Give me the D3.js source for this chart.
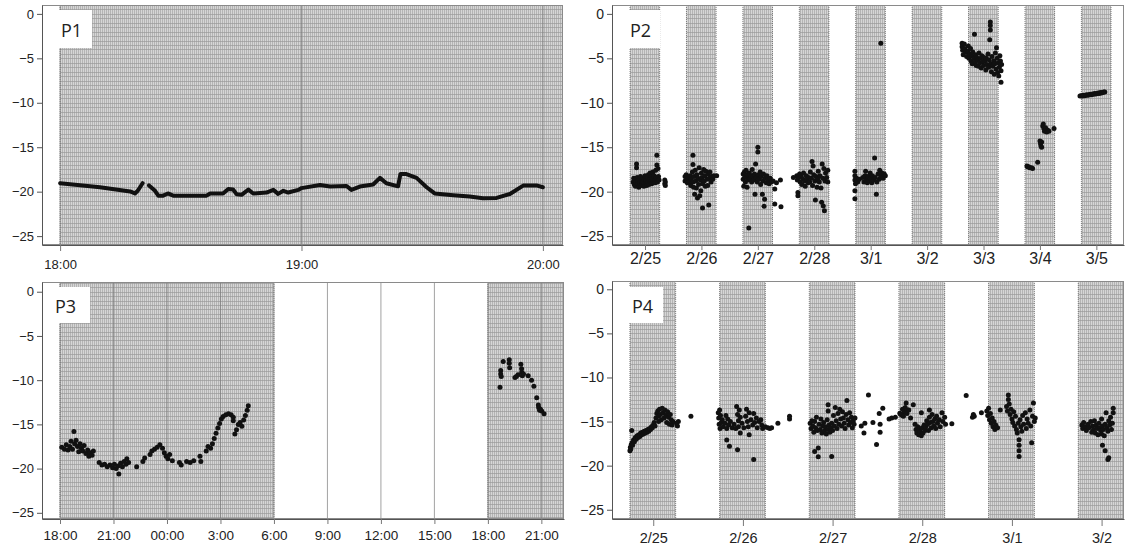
<!DOCTYPE html>
<html>
<head>
<meta charset="utf-8">
<script src="https://cdn.jsdelivr.net/npm/d3@7"></script>
<style>
  body { margin: 0; background: #fff; }
  svg text { font-family: Arial, "Liberation Sans", sans-serif; }
</style>
</head>
<body>
<div id="chart"></div>
<script>
// ---- data ----
// P1: minutes after 18:00 and value (null value = gap in the record)
var p1Minutes = [0, 9.9, 17.4, 18.6, 19.3, 20.5, 21.3, 22.1, 23.6, 24.4, 25.6, 26.8, 28.1, 36.4, 37.3, 40.5, 41.8, 43.0, 43.9, 45.1, 46.8, 48.0, 51.3, 53.0, 54.2, 55.5, 56.7, 59.2, 60.0, 64.6, 67.1, 71.2, 72.4, 74.5, 77.8, 79.5, 81.1, 84.0, 84.6, 85.9, 88.6, 91.1, 93.1, 97.7, 101.8, 105.1, 108.5, 111.8, 115.1, 118.4, 120.0];
var p1Values = [-19.05, -19.5, -19.97, -20.2, -19.9, -19.05, null, -19.3, -19.9, -20.45, -20.45, -20.2, -20.45, -20.45, -20.2, -20.2, -19.7, -19.75, -20.3, -20.35, -19.77, -20.2, -20.1, -19.8, -20.25, -19.9, -20.1, -19.8, -19.6, -19.25, -19.43, -19.36, -19.8, -19.43, -19.2, -18.45, -19.05, -19.4, -18.0, -18.0, -18.45, -19.5, -20.2, -20.4, -20.55, -20.75, -20.7, -20.26, -19.32, -19.3, -19.5];
var p1Ticks = [0, 60, 120];
var p1TickLabels = ["18:00", "19:00", "20:00"];

// P2: [day index from 2/25, value]
var p2DayLabels = ["2/25", "2/26", "2/27", "2/28", "3/1", "3/2", "3/3", "3/4", "3/5"];
var p2Points = [
  [-0.21,-18.9],[-0.2,-18.5],[-0.19,-19.2],[-0.18,-18.7],[-0.17,-19.4],[-0.16,-18.9],[-0.15,-16.9],[-0.15,-17.3],[-0.14,-18.4],[-0.13,-19.1],[-0.12,-18.8],[-0.11,-19.5],[-0.1,-18.6],[-0.09,-19.0],[-0.08,-18.3],[-0.07,-19.3],[-0.06,-18.8],[-0.05,-19.1],[-0.04,-18.5],[-0.03,-18.9],[-0.02,-19.4],[-0.01,-18.6],[0,-18.2],[0.01,-19.0],[0.02,-18.7],[0.03,-19.3],[0.04,-18.4],[0.05,-18.9],[0.06,-18.1],[0.07,-19.2],[0.08,-18.6],[0.09,-17.9],[0.1,-18.8],[0.11,-18.3],[0.12,-19.1],[0.13,-18.5],[0.14,-17.8],[0.15,-18.9],[0.16,-18.2],[0.17,-18.7],[0.18,-19.0],[0.19,-17.6],[0.2,-18.4],[0.21,-15.9],[0.21,-17.0],[0.22,-18.9],[0.23,-17.4],[0.24,-18.3],[0.25,-18.7],[0.35,-18.7],[0.35,-19.1],[0.36,-18.9],[0.36,-19.3],
  [0.71,-18.3],[0.71,-18.8],[0.73,-18.1],[0.74,-18.6],[0.75,-19.0],[0.77,-18.4],[0.78,-18.9],[0.8,-18.2],[0.81,-19.3],[0.82,-18.6],[0.84,-17.8],[0.85,-15.9],[0.85,-16.95],[0.85,-18.9],[0.86,-19.5],[0.87,-18.3],[0.88,-20.3],[0.89,-17.6],[0.9,-18.8],[0.91,-19.6],[0.92,-18.1],[0.93,-20.7],[0.94,-18.5],[0.95,-19.2],[0.96,-17.3],[0.97,-20.45],[0.98,-18.7],[0.99,-19.9],[1.0,-17.9],[1.01,-18.4],[1.02,-21.85],[1.02,-19.1],[1.04,-17.5],[1.05,-18.8],[1.06,-18.2],[1.07,-19.4],[1.08,-17.7],[1.1,-18.6],[1.11,-19.3],[1.12,-18.0],[1.13,-21.5],[1.14,-18.5],[1.15,-17.8],[1.17,-18.9],[1.18,-18.3],[1.2,-18.6],[1.22,-18.2],[1.27,-18.2],
  [1.74,-18.0],[1.74,-18.6],[1.75,-19.4],[1.76,-17.8],[1.77,-18.3],[1.78,-18.9],[1.79,-17.6],[1.8,-18.4],[1.81,-19.5],[1.82,-18.1],[1.83,-18.7],[1.84,-24.1],[1.85,-17.9],[1.86,-18.5],[1.88,-18.2],[1.89,-18.9],[1.9,-17.5],[1.91,-18.3],[1.93,-18.7],[1.94,-18.0],[1.95,-20.3],[1.96,-16.9],[1.97,-18.4],[1.99,-18.9],[2.0,-15.0],[2.0,-15.55],[2.01,-18.1],[2.02,-18.6],[2.04,-17.8],[2.05,-19.2],[2.06,-18.3],[2.08,-20.3],[2.09,-18.8],[2.1,-18.0],[2.11,-21.65],[2.12,-20.85],[2.13,-18.5],[2.15,-19.0],[2.16,-18.2],[2.18,-18.7],[2.2,-19.1],[2.22,-18.5],[2.24,-18.9],[2.27,-18.8],[2.3,-19.7],[2.3,-21.4],[2.33,-19.0],[2.4,-18.7],[2.41,-21.7],
  [2.63,-18.4],[2.69,-18.2],[2.7,-18.7],[2.71,-20.1],[2.71,-20.45],[2.72,-18.4],[2.74,-18.0],[2.75,-18.9],[2.77,-18.3],[2.78,-19.2],[2.8,-18.6],[2.81,-17.9],[2.83,-18.8],[2.84,-19.4],[2.86,-18.2],[2.87,-18.7],[2.89,-19.0],[2.9,-18.4],[2.92,-18.9],[2.93,-17.8],[2.95,-18.5],[2.96,-16.6],[2.97,-19.3],[2.98,-17.1],[2.99,-18.1],[3.01,-18.8],[3.02,-20.95],[3.03,-18.3],[3.05,-19.5],[3.06,-18.6],[3.07,-17.7],[3.09,-18.9],[3.1,-18.2],[3.12,-19.6],[3.13,-21.2],[3.14,-16.9],[3.15,-18.5],[3.16,-21.6],[3.17,-17.4],[3.18,-22.15],[3.19,-18.8],[3.2,-17.9],[3.22,-18.4],[3.24,-17.6],[3.24,-18.9],
  [3.72,-17.7],[3.72,-18.2],[3.72,-18.7],[3.73,-19.1],[3.72,-19.9],[3.72,-20.8],[3.75,-18.5],[3.77,-18.9],[3.8,-18.6],[3.86,-18.4],[3.88,-18.9],[3.9,-18.2],[3.91,-17.7],[3.92,-18.7],[3.94,-19.0],[3.95,-18.3],[3.97,-18.8],[3.99,-17.9],[4.0,-18.5],[4.02,-19.0],[4.03,-18.2],[4.05,-18.7],[4.07,-16.2],[4.08,-18.4],[4.1,-20.3],[4.11,-18.9],[4.13,-18.0],[4.15,-18.6],[4.16,-17.6],[4.18,-3.3],[4.18,-18.3],[4.2,-17.9],[4.22,-18.5],[4.24,-18.0],[4.26,-18.2],
  [5.62,-3.3],[5.62,-3.7],[5.63,-4.1],[5.64,-4.6],[5.66,-3.4],[5.67,-3.9],[5.68,-4.3],[5.7,-4.8],[5.72,-4.2],[5.73,-3.6],[5.74,-5.0],[5.75,-4.5],[5.77,-3.9],[5.78,-5.3],[5.79,-4.7],[5.8,-5.6],[5.81,-4.3],[5.83,-5.0],[5.84,-2.3],[5.85,-5.4],[5.86,-4.6],[5.87,-5.8],[5.88,-4.9],[5.9,-5.2],[5.91,-5.9],[5.92,-4.4],[5.93,-5.5],[5.95,-5.0],[5.96,-6.1],[5.97,-4.7],[5.98,-5.4],[6.0,-5.8],[6.01,-4.9],[6.02,-5.3],[6.04,-6.3],[6.05,-5.0],[6.06,-5.7],[6.08,-4.5],[6.09,-6.0],[6.1,-5.2],[6.11,-2.9],[6.12,-0.9],[6.12,-1.3],[6.12,-1.8],[6.13,-5.6],[6.14,-6.5],[6.15,-4.8],[6.16,-5.9],[6.18,-5.3],[6.19,-6.8],[6.2,-5.6],[6.21,-4.4],[6.22,-6.2],[6.23,-3.8],[6.24,-5.0],[6.25,-6.6],[6.26,-5.5],[6.27,-7.0],[6.28,-6.0],[6.29,-4.7],[6.3,-5.3],[6.31,-6.4],[6.31,-7.7],[6.32,-5.7],
  [6.77,-17.1],[6.78,-17.2],[6.8,-17.2],[6.82,-17.3],[6.85,-17.3],[6.87,-17.4],[6.96,-16.7],[7.0,-14.3],[7.01,-14.6],[7.02,-14.9],[7.03,-15.0],[7.03,-14.4],[7.05,-12.6],[7.06,-12.4],[7.07,-12.9],[7.08,-13.2],[7.1,-12.8],[7.12,-13.3],[7.14,-13.1],[7.16,-13.2],[7.25,-12.9],
  [7.71,-9.25],[7.73,-9.2],[7.75,-9.25],[7.77,-9.15],[7.79,-9.2],[7.81,-9.15],[7.83,-9.1],[7.85,-9.15],[7.87,-9.1],[7.89,-9.05],[7.91,-9.1],[7.93,-9.0],[7.95,-9.05],[7.97,-8.95],[7.99,-9.0],[8.01,-8.95],[8.03,-8.9],[8.05,-8.95],[8.07,-8.85],[8.09,-8.9],[8.11,-8.85],[8.13,-8.8],[8.15,-8.8]
];

// P3: [hours after first 18:00, value]
var p3TickLabels = ["18:00", "21:00", "00:00", "3:00", "6:00", "9:00", "12:00", "15:00", "18:00", "21:00"];
var p3Points = [
  [0.1,-17.6],[0.25,-17.8],[0.35,-17.3],[0.45,-17.9],[0.55,-17.5],[0.62,-16.9],[0.7,-17.8],[0.78,-15.8],[0.82,-17.2],[0.9,-16.8],[0.98,-17.5],[1.05,-18.1],[1.12,-17.2],[1.2,-17.7],[1.28,-18.0],[1.35,-17.4],[1.45,-18.3],[1.55,-17.9],[1.62,-18.6],[1.7,-18.2],[1.8,-18.5],[1.87,-18.0],
  [2.2,-19.3],[2.35,-19.6],[2.5,-19.5],[2.65,-19.8],[2.8,-19.6],[2.95,-19.9],[3.05,-19.5],[3.15,-20.0],[3.25,-19.7],[3.3,-20.6],[3.4,-19.4],[3.5,-19.8],[3.6,-19.2],[3.7,-19.5],[3.75,-18.9],[3.85,-19.3],[4.3,-19.8],[4.65,-19.2],[4.75,-18.8],
  [5.05,-18.4],[5.15,-18.0],[5.3,-17.8],[5.45,-17.6],[5.6,-17.3],[5.75,-17.7],[5.85,-18.2],[5.95,-18.6],[6.05,-18.9],[6.15,-18.4],[6.3,-19.1],[6.7,-19.3],[6.8,-19.6],[7.1,-19.2],[7.3,-19.3],[7.5,-19.1],[7.85,-18.6],[7.9,-19.2],
  [8.2,-18.0],[8.3,-17.5],[8.45,-17.7],[8.55,-17.2],[8.65,-16.6],[8.75,-16.0],[8.85,-15.4],[8.95,-14.9],[9.05,-14.4],[9.15,-14.1],[9.3,-13.9],[9.45,-13.8],[9.6,-13.9],[9.72,-14.2],[9.72,-14.6],[9.81,-16.1],[9.9,-15.6],[10.0,-15.0],[10.1,-14.8],[10.2,-15.2],[10.3,-14.5],[10.4,-14.0],[10.5,-13.4],[10.56,-12.9],
  [24.68,-10.8],[24.72,-8.9],[24.72,-9.3],[24.75,-9.6],[24.86,-7.9],[25.2,-7.7],[25.2,-8.1],[25.22,-8.6],[25.52,-9.7],[25.6,-9.6],[25.69,-9.4],[25.85,-8.2],[25.89,-8.7],[25.9,-9.1],[25.93,-9.5],[26.0,-9.3],[26.26,-9.5],[26.45,-10.0],[26.58,-10.7],[26.74,-12.0],[26.83,-12.8],[26.85,-13.1],[26.9,-13.4],[26.95,-13.3],[27.02,-13.5],[27.15,-13.8]
];
var p3Nights = [[0, 12], [24, 36]];

// P4: [day index from 2/25, value]
var p4DayLabels = ["2/25", "2/26", "2/27", "2/28", "3/1", "3/2"];
var p4Points = [
  [-0.26,-18.3],[-0.255,-17.9],[-0.25,-18.1],[-0.245,-17.6],[-0.24,-16.0],[-0.235,-17.4],[-0.23,-17.7],[-0.22,-17.1],[-0.21,-17.3],[-0.2,-16.8],[-0.19,-17.0],[-0.18,-16.6],[-0.17,-16.8],[-0.16,-16.5],[-0.15,-16.7],[-0.14,-16.3],[-0.13,-16.5],[-0.12,-16.2],[-0.11,-16.4],[-0.1,-16.1],[-0.09,-16.3],[-0.08,-16.0],[-0.07,-16.2],[-0.06,-15.9],[-0.05,-16.1],[-0.04,-15.8],[-0.03,-15.9],[-0.02,-15.6],[-0.01,-15.7],[0.0,-15.4],[0.01,-15.1],[0.02,-15.5],[0.03,-14.6],[0.04,-14.1],[0.05,-13.8],[0.06,-14.4],[0.06,-15.0],[0.07,-13.6],[0.08,-14.2],[0.09,-14.8],[0.1,-13.5],[0.11,-14.0],[0.12,-14.6],[0.13,-13.7],[0.14,-14.3],[0.15,-15.1],[0.16,-13.9],[0.17,-14.5],[0.18,-15.3],[0.19,-14.2],[0.2,-14.8],[0.21,-15.4],[0.22,-15.0],[0.26,-15.2],[0.27,-15.5],[0.28,-15.0],[0.42,-14.4],
  [0.725,-14.0],[0.73,-14.6],[0.735,-15.3],[0.74,-13.7],[0.745,-15.8],[0.75,-14.3],[0.76,-15.1],[0.77,-14.8],[0.78,-15.6],[0.8,-15.2],[0.81,-14.3],[0.82,-17.1],[0.82,-15.8],[0.83,-14.7],[0.84,-15.4],[0.85,-17.8],[0.86,-15.0],[0.88,-15.7],[0.9,-15.3],[0.92,-15.8],[0.93,-13.3],[0.94,-14.2],[0.94,-18.2],[0.95,-14.9],[0.95,-15.6],[0.96,-13.7],[0.97,-16.3],[0.97,-14.5],[0.99,-15.2],[1.01,-15.7],[1.03,-14.4],[1.04,-13.6],[1.05,-15.0],[1.06,-15.6],[1.07,-14.0],[1.07,-16.5],[1.09,-14.8],[1.11,-15.4],[1.12,-14.1],[1.12,-19.3],[1.13,-15.1],[1.15,-14.6],[1.16,-15.7],[1.18,-15.0],[1.2,-14.8],[1.21,-15.4],[1.22,-15.8],[1.25,-15.6],[1.28,-15.7],[1.3,-15.8],[1.32,-15.7],[1.39,-15.2],[1.52,-14.4],[1.52,-14.7],
  [1.75,-15.2],[1.76,-15.8],[1.77,-14.9],[1.78,-15.5],[1.79,-16.2],[1.8,-18.4],[1.8,-15.0],[1.81,-15.7],[1.82,-14.5],[1.83,-16.0],[1.84,-18.0],[1.84,-19.0],[1.85,-15.3],[1.86,-15.9],[1.87,-14.7],[1.88,-16.3],[1.89,-15.5],[1.9,-15.1],[1.91,-16.0],[1.92,-15.6],[1.93,-16.4],[1.94,-14.8],[1.95,-13.1],[1.95,-13.8],[1.95,-15.9],[1.96,-15.4],[1.97,-16.2],[1.98,-15.7],[1.99,-18.95],[1.99,-15.2],[2.0,-16.0],[2.01,-14.3],[2.02,-15.5],[2.03,-13.4],[2.04,-14.9],[2.05,-15.8],[2.06,-14.1],[2.07,-15.3],[2.08,-13.6],[2.09,-14.7],[2.1,-15.5],[2.11,-13.9],[2.12,-14.6],[2.13,-15.2],[2.14,-15.8],[2.15,-14.2],[2.16,-12.6],[2.17,-14.8],[2.18,-15.4],[2.19,-14.0],[2.2,-15.1],[2.21,-14.5],[2.22,-15.7],[2.23,-14.9],[2.24,-15.3],[2.25,-14.6],
  [2.32,-15.5],[2.35,-16.3],[2.36,-15.2],[2.4,-12.0],[2.45,-15.1],[2.49,-17.6],[2.52,-14.1],[2.53,-15.3],[2.53,-16.2],[2.56,-13.5],[2.63,-14.7],[2.66,-14.6],[2.7,-14.5],[2.75,-14.05],[2.78,-14.3],[2.8,-13.9],[2.82,-12.9],[2.84,-13.7],
  [2.76,-14.2],[2.78,-13.6],[2.79,-14.4],[2.81,-13.4],[2.83,-14.1],[2.85,-13.7],[2.87,-14.6],[2.9,-13.1],[2.92,-15.3],[2.93,-15.9],[2.94,-16.3],[2.95,-15.6],[2.96,-16.5],[2.97,-15.9],[2.98,-16.2],[2.99,-14.0],[2.99,-16.6],[3.0,-15.7],[3.01,-16.3],[3.02,-15.4],[3.03,-16.0],[3.04,-15.6],[3.05,-14.9],[3.06,-15.3],[3.07,-16.0],[3.08,-13.7],[3.08,-14.5],[3.09,-15.1],[3.1,-15.7],[3.11,-14.2],[3.12,-15.0],[3.13,-15.5],[3.14,-14.7],[3.15,-15.8],[3.16,-14.4],[3.17,-15.2],[3.19,-14.8],[3.2,-15.6],[3.22,-14.0],[3.23,-15.0],[3.25,-14.5],[3.26,-15.3],[3.33,-15.25],
  [3.49,-12.05],[3.56,-14.5],[3.57,-14.2],[3.58,-14.4],[3.66,-14.0],
  [3.72,-13.8],[3.73,-14.3],[3.74,-13.5],[3.75,-14.8],[3.76,-14.1],[3.77,-15.2],[3.78,-14.6],[3.79,-15.6],[3.8,-15.0],[3.81,-15.9],[3.82,-15.4],[3.84,-15.7],[3.87,-13.7],[3.94,-13.3],[3.95,-13.8],[3.96,-12.0],[3.96,-12.5],[3.97,-13.0],[3.98,-14.2],[3.99,-13.6],[4.0,-14.7],[4.01,-15.1],[4.02,-13.9],[4.03,-15.5],[4.04,-14.4],[4.05,-15.9],[4.06,-16.3],[4.07,-15.2],[4.08,-17.05],[4.08,-17.7],[4.08,-18.3],[4.08,-18.95],[4.09,-14.8],[4.1,-15.6],[4.11,-16.1],[4.12,-14.3],[4.13,-15.3],[4.15,-14.0],[4.16,-15.8],[4.17,-14.7],[4.18,-15.2],[4.2,-13.7],[4.21,-15.5],[4.22,-17.4],[4.23,-14.4],[4.24,-12.9],[4.25,-15.0],[4.26,-14.6],
  [4.78,-15.4],[4.79,-15.8],[4.8,-15.1],[4.82,-15.6],[4.83,-16.0],[4.85,-15.3],[4.86,-15.7],[4.88,-15.0],[4.89,-16.2],[4.9,-15.5],[4.91,-15.9],[4.92,-14.9],[4.93,-16.3],[4.94,-15.4],[4.95,-15.8],[4.96,-16.5],[4.97,-15.2],[4.98,-15.7],[4.99,-16.0],[5.0,-14.7],[5.0,-16.4],[5.01,-15.5],[5.01,-17.7],[5.02,-15.9],[5.03,-16.6],[5.04,-15.3],[5.04,-18.3],[5.05,-14.0],[5.06,-15.7],[5.07,-16.1],[5.07,-19.3],[5.08,-19.1],[5.08,-14.9],[5.09,-15.4],[5.1,-14.5],[5.11,-15.9],[5.12,-15.2],[5.13,-13.5],[5.13,-14.0]
];

var yTicks = [0, -5, -10, -15, -20, -25];

// ---- drawing ----
var svg = d3.select("#chart").append("svg")
    .attr("width", 1126)
    .attr("height", 554)
    .style("background", "#fff");

// fine grey stipple used for the night shading
var defs = svg.append("defs");
var pat = defs.append("pattern")
    .attr("id", "shade")
    .attr("patternUnits", "userSpaceOnUse")
    .attr("width", 2)
    .attr("height", 2);
pat.append("rect").attr("width", 2).attr("height", 2).attr("fill", "#d6d6d6");
pat.append("rect").attr("width", 1).attr("height", 2).attr("fill", "#b4b4b4");

function drawPanel(p) {
    var g = svg.append("g");
    var x = d3.scaleLinear().domain(p.xDomain).range([p.left, p.right]);
    var y = d3.scaleLinear().domain(p.yDomain).range([p.bottom, p.top]);

    var clipId = "clip-" + p.name;
    defs.append("clipPath").attr("id", clipId)
        .append("rect")
        .attr("x", p.left).attr("y", p.top)
        .attr("width", p.right - p.left).attr("height", p.bottom - p.top);

    var plot = g.append("g").attr("clip-path", "url(#" + clipId + ")");

    // night bands
    p.bands.forEach(function(b) {
        var x0 = Math.max(x(b[0]), p.left);
        var x1 = Math.min(x(b[1]), p.right);
        plot.append("rect")
            .attr("x", x0).attr("y", p.top)
            .attr("width", x1 - x0).attr("height", p.bottom - p.top)
            .attr("fill", "url(#shade)");
        // horizontal grid inside shading
        plot.append("g").selectAll("line")
            .data(d3.range(-26, 1.01, 0.5))
            .enter().append("line")
            .attr("x1", x0).attr("x2", x1)
            .attr("y1", d => Math.round(y(d)) + 0.5)
            .attr("y2", d => Math.round(y(d)) + 0.5)
            .attr("stroke", "#999")
            .attr("stroke-width", 0.7);
        [b[0], b[1]].forEach(function(v) {
            if (x(v) > p.left && x(v) < p.right) {
                plot.append("line")
                    .attr("x1", x(v)).attr("x2", x(v))
                    .attr("y1", p.top).attr("y2", p.bottom)
                    .attr("stroke", "#666")
                    .attr("stroke-width", 0.8)
                    .attr("stroke-dasharray", "1,1");
            }
        });
    });

    // vertical guide lines at time ticks
    if (p.vlines) {
        plot.append("g").selectAll("line")
            .data(p.vlines)
            .enter().append("line")
            .attr("x1", d => x(d)).attr("x2", d => x(d))
            .attr("y1", p.top).attr("y2", p.bottom)
            .attr("stroke", "#7a7a7a")
            .attr("stroke-width", 0.7);
    }

    // data
    if (p.line) {
        var line = d3.line()
            .defined(d => d[1] != null)
            .x(d => x(d[0]))
            .y(d => y(d[1]));
        plot.append("path")
            .datum(p.line)
            .attr("d", line)
            .attr("fill", "none")
            .attr("stroke", "#111")
            .attr("stroke-width", 4)
            .attr("stroke-linejoin", "round")
            .attr("stroke-linecap", "round");
    }
    if (p.points) {
        plot.append("g").selectAll("circle")
            .data(p.points)
            .enter().append("circle")
            .attr("cx", d => x(d[0]))
            .attr("cy", d => y(d[1]))
            .attr("r", 2.5)
            .attr("fill", "#111");
    }

    // frame
    g.append("rect")
        .attr("x", p.left + 0.5).attr("y", p.top + 0.5)
        .attr("width", p.right - p.left - 1).attr("height", p.bottom - p.top - 1)
        .attr("fill", "none")
        .attr("stroke", "#8a8a8a")
        .attr("stroke-width", 1);

    // axes
    var yAxis = d3.axisLeft(y).tickValues(yTicks).tickSize(5).tickPadding(3).tickSizeOuter(0);
    var ya = g.append("g")
        .attr("transform", `translate(${p.left}, 0)`)
        .call(yAxis);
    ya.select(".domain").attr("stroke", "#555");
    ya.selectAll(".tick line").attr("stroke", "#555");
    ya.selectAll("text")
        .attr("font-size", p.yFont + "px")
        .attr("font-family", "Arial, 'Liberation Sans', sans-serif")
        .attr("fill", "#222");

    var xAxis = d3.axisBottom(x)
        .tickValues(p.xTicks)
        .tickFormat((d, i) => p.xLabels[i])
        .tickSize(p.xTickSize).tickPadding(p.xPad).tickSizeOuter(0);
    var xa = g.append("g")
        .attr("transform", `translate(0, ${p.bottom})`)
        .call(xAxis);
    xa.select(".domain").attr("stroke", "#555");
    xa.selectAll(".tick line").attr("stroke", "#777");
    xa.selectAll("text")
        .attr("font-size", p.xFont + "px")
        .attr("font-family", "Arial, 'Liberation Sans', sans-serif")
        .attr("fill", "#222");

    // panel label
    g.append("rect")
        .attr("x", p.labelBox[0]).attr("y", p.labelBox[1])
        .attr("width", p.labelBox[2]).attr("height", p.labelBox[3])
        .attr("fill", "#fff");
    g.append("text")
        .attr("x", p.labelBox[0] + p.labelBox[4])
        .attr("y", p.labelBox[1] + p.labelBox[5])
        .attr("font-size", "18px")
        .attr("fill", "#222")
        .style("font-family", "'Open Sans', 'Noto Sans', sans-serif")
        .text(p.name);
}

var nightFrom = -0.265, nightTo = 0.26;

drawPanel({
    name: "P1",
    left: 42, right: 563, top: 5, bottom: 245,
    xDomain: [-4.5, 125], yDomain: [-26, 1],
    bands: [[0, 200]],
    vlines: p1Ticks,
    line: p1Minutes.map((m, i) => [m, p1Values[i]]),
    xTicks: p1Ticks, xLabels: p1TickLabels,
    xTickSize: 6, xPad: 9, xFont: 13, yFont: 13,
    labelBox: [59, 10, 33, 38, 2, 27]
});

drawPanel({
    name: "P2",
    left: 612, right: 1124, top: 5, bottom: 245,
    xDomain: [-0.585, 8.49], yDomain: [-26, 1],
    bands: p2DayLabels.map((d, i) => [i + nightFrom, i + nightTo]),
    points: p2Points,
    xTicks: d3.range(p2DayLabels.length), xLabels: p2DayLabels,
    xTickSize: 5, xPad: 3, xFont: 16, yFont: 14,
    labelBox: [628, 10, 32, 38, 2, 27]
});

drawPanel({
    name: "P3",
    left: 42, right: 564, top: 282, bottom: 519,
    xDomain: [-1.01, 28.27], yDomain: [-25.7, 1.1],
    bands: p3Nights,
    vlines: d3.range(0, 28, 3),
    points: p3Points,
    xTicks: d3.range(0, 28, 3), xLabels: p3TickLabels,
    xTickSize: 5, xPad: 6, xFont: 13.5, yFont: 13,
    labelBox: [50, 287, 40, 36, 5, 26]
});

drawPanel({
    name: "P4",
    left: 612, right: 1124, top: 281, bottom: 519,
    xDomain: [-0.46, 5.25], yDomain: [-26.05, 0.94],
    bands: p4DayLabels.map((d, i) => [i - 0.26, i + 0.25]),
    points: p4Points,
    xTicks: d3.range(p4DayLabels.length), xLabels: p4DayLabels,
    xTickSize: 7, xPad: 7, xFont: 14.5, yFont: 14,
    labelBox: [628, 287, 35, 36, 4, 26]
});
</script>
</body>
</html>
